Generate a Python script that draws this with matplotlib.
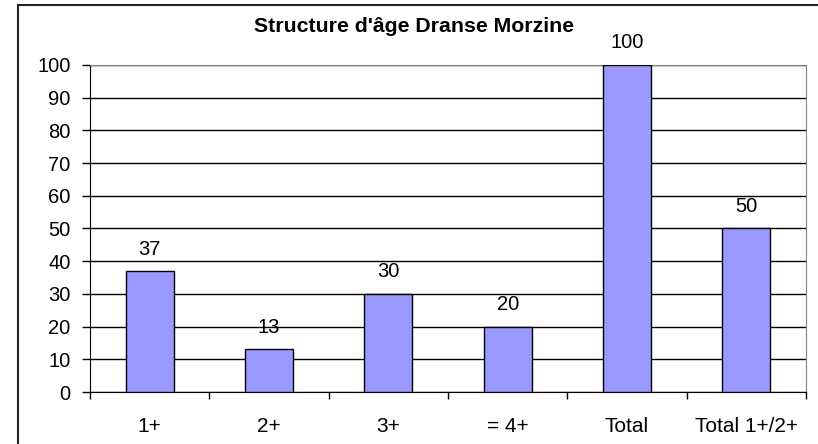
import matplotlib.pyplot as plt
from matplotlib.patches import Rectangle

plt.rcParams['font.family'] = ['Liberation Sans', 'DejaVu Sans']

# Age classes and their percentages
categories = ["1+", "2+", "3+", "= 4+", "Total", "Total 1+/2+"]
values = [37, 13, 30, 20, 100, 50]
title = "Structure d'âge Dranse Morzine"

W, H = 818, 444
fig = plt.figure(figsize=(W / 100, H / 100), dpi=100)

# Chart area frame (extends past the right and bottom edges)
fig.patches.append(Rectangle((18 / W, -0.05), 1.0, 1 - 5 / H + 0.05,
                             transform=fig.transFigure, fill=False,
                             edgecolor="#222222", linewidth=1.5))

left, right, top, bottom = 90, 806, 65, 392
ax = fig.add_axes([left / W, 1 - bottom / H, (right - left) / W, (bottom - top) / H])

x = range(len(categories))
bars = ax.bar(x, values, width=0.4, color="#9999FF", edgecolor="black",
              linewidth=1.0, zorder=3)

ax.set_xlim(-0.5, len(categories) - 0.5)
ax.set_ylim(0, 100)
ax.set_yticks(range(0, 101, 10))
ax.yaxis.grid(True, color="black", linewidth=1.0, zorder=0)

ax.set_xticks([i - 0.5 for i in range(len(categories) + 1)])
ax.set_xticklabels([])
ax.set_xticks(list(x), minor=True)
ax.set_xticklabels(categories, minor=True)
ax.tick_params(axis="x", which="major", direction="out", length=5, width=1, color="black")
ax.tick_params(axis="x", which="minor", length=0, pad=18, labelsize=15)
ax.tick_params(axis="y", direction="out", length=6, width=1, labelsize=14.5, pad=8)

for side in ("top", "right"):
    ax.spines[side].set_color("#808080")
for side in ("left", "bottom"):
    ax.spines[side].set_color("black")

for b, v in zip(bars, values):
    ax.annotate(str(v), (b.get_x() + b.get_width() / 2, v),
                xytext=(0, 9), textcoords="offset points",
                ha="center", va="bottom", fontsize=14.5)

fig.text(414.5 / W, 1 - 26.5 / H, title, ha="center", va="center",
         fontsize=15.3, fontweight="bold")

fig.savefig("out.png", dpi=100)
